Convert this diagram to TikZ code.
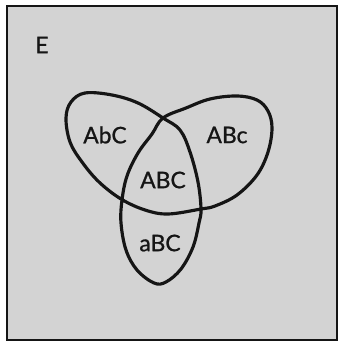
\documentclass[tikz,border=0pt]{standalone}
\usepackage{fontspec}
\setmainfont{Lato}
\newfontfamily\labelfont{Lato}[UprightFeatures={FakeBold=0.9}]
\usepackage{tikz}
\usetikzlibrary{positioning,calc}
\usepackage{xcolor}
\definecolor{paper}{HTML}{D3D3D3}
\definecolor{ink}{HTML}{151515}
\tikzset{
  frame/.style={draw=ink, line width=1.7pt, fill=paper},
  loop/.style={draw=ink, line width=2.7pt, line join=round},
  setlabel/.style={font=\fontsize{19.5pt}{21pt}\labelfont, text=ink, inner sep=0pt}
}

\begin{document}
\begin{tikzpicture}[x=0.03cm, y=-0.03cm]
  \useasboundingbox (0,0) rectangle (341,344);
  \draw[frame] (7,6) rectangle (337,340);
  % one closed curve with three self-crossings
  \draw[loop] plot[smooth cycle, tension=0.6] coordinates {
    (163,118) (138,103) (112,95) (85,93) (71,102) (66,118) (70,142)
    (82,162) (99,182) (121,199) (145,210) (168,214) (201,209)
    (215,206) (237,195) (257,175) (268,152) (272,128) (268,111)
    (257,100) (237,96) (210,99) (186,108)
    (163,118) (152,134) (138,153) (127,176) (122,200) (121,223)
    (126,250) (137,270) (154,283) (166,282) (181,269) (193,247)
    (199,223) (201,209) (198,182) (190,152) (180,130)};
  \node[setlabel] (lblE) at (42,45) {E};
  \node[setlabel] (lblAbC) at (105,135) {AbC};
  \node[setlabel] (lblABc) at (227,135) {ABc};
  \node[setlabel] (lblABC) at (163,180) {ABC};
  \node[setlabel] (lblaBC) at (160,243) {aBC};
\end{tikzpicture}
\end{document}
